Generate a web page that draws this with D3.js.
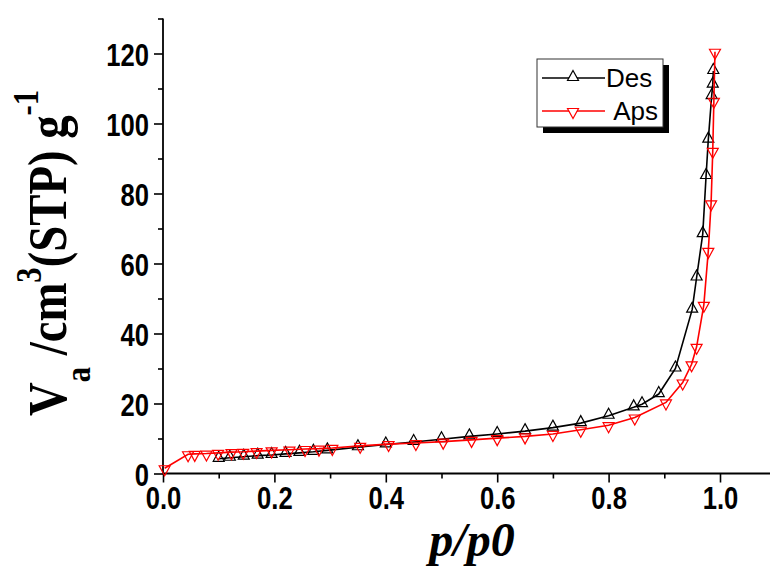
<!DOCTYPE html>
<html>
<head>
<meta charset="utf-8">
<script src="https://cdn.jsdelivr.net/npm/d3@7"></script>
<style>
  html, body { margin: 0; padding: 0; background: #fff; }
  svg { display: block; }
</style>
</head>
<body>
<div id="chart"></div>
<script>
// Nitrogen sorption isotherm: desorption and adsorption branches
const desP = [0.10, 0.12, 0.145, 0.17, 0.195, 0.22, 0.245, 0.27, 0.295, 0.35, 0.40, 0.45, 0.50, 0.55,
              0.60, 0.65, 0.70, 0.75, 0.80, 0.845, 0.86, 0.89, 0.92, 0.95, 0.958, 0.969, 0.975, 0.979,
              0.985, 0.987, 0.988];
const desV = [4.2, 4.5, 4.8, 5.1, 5.3, 5.6, 5.9, 6.2, 6.6, 7.5, 8.3, 9.0, 9.8, 10.6,
              11.3, 12.1, 13.1, 14.4, 16.5, 18.9, 19.8, 22.7, 30.0, 46.8, 56.0, 68.4, 85.0, 95.4,
              107.8, 111.1, 115.0];

const apsP = [0.003, 0.045, 0.057, 0.078, 0.099, 0.123, 0.144, 0.168, 0.195, 0.227, 0.255, 0.28, 0.304,
              0.354, 0.405, 0.454, 0.503, 0.554, 0.60, 0.65, 0.70, 0.75, 0.80, 0.847, 0.903, 0.933,
              0.949, 0.958, 0.971, 0.979, 0.984, 0.987, 0.989, 0.991];
const apsV = [1.5, 5.5, 5.6, 5.7, 5.9, 6.1, 6.2, 6.4, 6.6, 6.8, 7.0, 7.1, 7.3,
              7.9, 8.4, 8.7, 9.1, 9.6, 10.1, 10.6, 11.3, 12.5, 13.8, 16.0, 20.3, 26.0,
              31.2, 36.2, 48.2, 63.6, 77.2, 92.2, 106.5, 120.5];

const seriesNames = ["Des", "Aps"];
const seriesColors = ["#000000", "#ff0000"];

const xTicks = [0.0, 0.2, 0.4, 0.6, 0.8, 1.0];
const xMinorTicks = [0.1, 0.3, 0.5, 0.7, 0.9, 1.1];
const yTicks = [0, 20, 40, 60, 80, 100, 120];
const yMinorTicks = [10, 30, 50, 70, 90, 110, 130];

const W = 770, H = 567;
const svg = d3.select("#chart").append("svg")
  .attr("width", W).attr("height", H)
  .style("background", "#fff");

const x = d3.scaleLinear().domain([0, 1.1]).range([163, 775.7]);
const y = d3.scaleLinear().domain([0, 130]).range([473.5, 18.5]);

const tickFont = "'Liberation Sans', Arial, sans-serif";
const squeeze = 0.8;

// ---- axes ----
const yAxis = svg.append("g").attr("transform", `translate(${x(0)},0)`);
yAxis.call(d3.axisLeft(y).tickValues(yMinorTicks).tickSize(5).tickFormat(""));
yAxis.call(g => g.selectAll(".domain").remove());
const yMajor = svg.append("g").attr("transform", `translate(${x(0)},0)`)
  .call(d3.axisLeft(y).tickValues(yTicks).tickSize(9).tickPadding(4).tickFormat(d3.format("d")));
yMajor.select(".domain").attr("d", `M0,${y(130)}V${y(0)}`);

const xAxis = svg.append("g").attr("transform", `translate(0,${y(0)})`);
xAxis.call(d3.axisBottom(x).tickValues(xMinorTicks).tickSize(5).tickFormat(""));
xAxis.call(g => g.selectAll(".domain").remove());
const xMajor = svg.append("g").attr("transform", `translate(0,${y(0)})`)
  .call(d3.axisBottom(x).tickValues(xTicks).tickSize(9).tickPadding(5).tickFormat(d3.format(".1f")));
xMajor.select(".domain").attr("d", `M${x(0)},0H${x(1.1)}`);

svg.selectAll(".domain").attr("stroke", "#000").attr("stroke-width", 1.8);
svg.selectAll(".tick line").attr("stroke", "#000").attr("stroke-width", 1.6);

yMajor.selectAll(".tick text")
  .attr("font-family", tickFont).attr("font-size", 32).attr("font-weight", "bold")
  .attr("fill", "#000")
  .attr("x", -14 / squeeze).attr("dy", "0.36em")
  .attr("transform", `scale(${squeeze},1)`);
xMajor.selectAll(".tick text")
  .attr("font-family", tickFont).attr("font-size", 32).attr("font-weight", "bold")
  .attr("fill", "#000")
  .attr("y", 13).attr("dy", "0.71em")
  .attr("transform", `scale(${squeeze},1)`)
  .attr("x", 0);

// ---- axis titles ----
const serif = "'Liberation Serif', 'Times New Roman', serif";
const yTitle = svg.append("text")
  .attr("transform", "translate(66,253) rotate(-90) scale(0.85,1)")
  .attr("text-anchor", "middle")
  .attr("font-family", serif).attr("font-weight", "bold").attr("font-size", 55)
  .attr("fill", "#000");
yTitle.append("tspan").text("V");
yTitle.append("tspan").attr("dy", 24).attr("font-size", 36).text("a");
yTitle.append("tspan").attr("dy", -24).text(" /cm");
yTitle.append("tspan").attr("dy", -25).attr("font-size", 36).text("3");
yTitle.append("tspan").attr("dy", 25).text("(STP) g");
yTitle.append("tspan").attr("dy", -28).attr("font-size", 36).text("-1");

svg.append("text")
  .attr("x", 472).attr("y", 556)
  .attr("text-anchor", "middle")
  .attr("font-family", serif).attr("font-weight", "bold").attr("font-style", "italic")
  .attr("font-size", 48).attr("fill", "#000")
  .text("p/p0");

// ---- series ----
const upTri = "M0,-7.5L5.5,2.5L-5.5,2.5Z";
const downTri = "M-5.5,-2.5L5.5,-2.5L0,7.5Z";

const series = [
  { name: seriesNames[0], color: seriesColors[0], pts: desP.map((p, i) => [p, desV[i]]), marker: upTri },
  { name: seriesNames[1], color: seriesColors[1], pts: apsP.map((p, i) => [p, apsV[i]]), marker: downTri }
];

const line = d3.line().x(d => x(d[0])).y(d => y(d[1]));

series.forEach(s => {
  const g = svg.append("g");
  g.append("path").attr("d", line(s.pts))
    .attr("fill", "none").attr("stroke", s.color).attr("stroke-width", 1.6);
  g.selectAll("path.mk").data(s.pts).join("path")
    .attr("class", "mk")
    .attr("d", s.marker)
    .attr("transform", d => `translate(${x(d[0])},${y(d[1])})`)
    .attr("fill", "none")
    .attr("stroke", s.color).attr("stroke-width", 1.2);
});

// ---- legend ----
const leg = svg.append("g");
leg.append("rect").attr("x", 543).attr("y", 65).attr("width", 126).attr("height", 68).attr("fill", "#000");
leg.append("rect").attr("x", 537).attr("y", 59).attr("width", 126).attr("height", 68)
  .attr("fill", "#fff").attr("stroke", "#333").attr("stroke-width", 1);
series.forEach((s, i) => {
  const ly = 78 + i * 33;
  leg.append("line").attr("x1", 542).attr("x2", 605).attr("y1", ly).attr("y2", ly)
    .attr("stroke", s.color).attr("stroke-width", 1.4);
  leg.append("path").attr("d", s.marker)
    .attr("transform", `translate(573,${ly})`)
    .attr("fill", "#fff").attr("stroke", s.color).attr("stroke-width", 1.2);
  leg.append("text").attr("x", 606).attr("y", ly + 9)
    .attr("font-family", tickFont).attr("font-size", 26).attr("fill", "#000")
    .text(i === 0 ? s.name : "\u00a0" + s.name);
});
</script>
</body>
</html>
